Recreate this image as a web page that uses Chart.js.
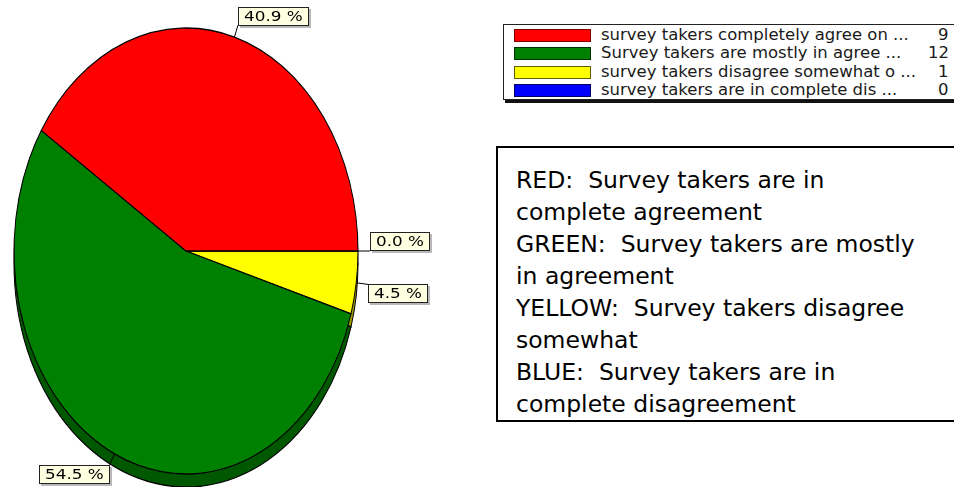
<!DOCTYPE html>
<html>
<head>
<meta charset="utf-8">
<script src="https://cdn.jsdelivr.net/npm/chart.js@4/dist/chart.umd.min.js"></script>
<style>
  html, body { margin: 0; padding: 0; background: #fff; }
  body { width: 954px; height: 487px; position: relative; overflow: hidden; font-family: "DejaVu Sans", sans-serif; }
  #pie { position: absolute; left: 0; top: 0; }
  #legend { position: absolute; left: 503px; top: 24px; width: 470px; height: 74px; border: 1px solid #222; box-shadow: 2px 3px 0 #111; background: #fff; }
  #legend .row { position: absolute; left: 0; width: 100%; height: 18px; }
  #legend .sw { position: absolute; left: 10px; top: 3px; width: 75px; height: 11px; border: 1px solid #000; }
  #legend .lbl { position: absolute; left: 97px; top: 0; line-height: 18px; font-size: 15px; color: #1a1a1a; white-space: nowrap; transform: scaleX(1.1); transform-origin: left center; }
  #legend .val { position: absolute; right: 25px; top: 0; line-height: 18px; font-size: 15px; color: #1a1a1a; white-space: nowrap; transform: scaleX(1.1); transform-origin: right center; }
  #note { position: absolute; left: 496px; top: 146px; width: 470px; height: 256px; padding-top: 16px; border: 2px solid #000; background: #fff; }
  #note div { font-size: 23.5px; line-height: 32px; padding-left: 18px; white-space: pre; color: #000; }
</style>
</head>
<body>
<canvas id="pie" width="480" height="487"></canvas>
<div id="legend"></div>
<div id="note"></div>
<script>
// Survey results, in legend order
const categories = [
  'survey takers completely agree on ...',
  'Survey takers are mostly in agree ...',
  'survey takers disagree somewhat o ...',
  'survey takers are in complete dis ...'
];
const counts = [9, 12, 1, 0];
const faceColors = ['#ff0000', '#008000', '#ffff00', '#0000ff'];
const sideColors = ['#a00000', '#005800', '#a0a000', '#0000a0'];
const swatchBorders = ['#800000', '#003000', '#606000', '#000060'];

// Colour key text
const noteLines = [
  'RED:  Survey takers are in',
  'complete agreement',
  'GREEN:  Survey takers are mostly',
  'in agreement',
  'YELLOW:  Survey takers disagree',
  'somewhat',
  'BLUE:  Survey takers are in',
  'complete disagreement'
];

const total = counts.reduce((a, b) => a + b, 0);
const pctText = v => (v / total * 100).toFixed(1) + ' %';

// Legend
const legend = document.getElementById('legend');
categories.forEach((name, i) => {
  const row = document.createElement('div');
  row.className = 'row';
  row.style.top = (0.5 + i * 18.6) + 'px';
  row.innerHTML = '<div class="sw"></div><div class="lbl"></div><div class="val"></div>';
  row.querySelector('.sw').style.background = faceColors[i];
  row.querySelector('.sw').style.borderColor = swatchBorders[i];
  row.querySelector('.lbl').textContent = name;
  row.querySelector('.val').textContent = counts[i];
  legend.appendChild(row);
});

// Colour key box
const note = document.getElementById('note');
noteLines.forEach(t => {
  const d = document.createElement('div');
  d.textContent = t;
  note.appendChild(d);
});

// Slices run counter-clockwise from 3 o'clock, so feed them to Chart.js reversed
const order = counts.map((_, i) => i).reverse();
const pieLabels = order.map(i => categories[i]);
const pieValues = order.map(i => counts[i]);
const pieFaces = order.map(i => faceColors[i]);
const pieSides = order.map(i => sideColors[i]);

const STRETCH = 223 / 172;   // vertical stretch of the pie
const DEPTH = 13;            // thickness of the pie's side wall
const TEXT_SX = 1.2;         // horizontal stretch of the label font

const tiltedPie = {
  id: 'tiltedPie',
  beforeDatasetsDraw(chart) {
    const ctx = chart.ctx;
    const meta = chart.getDatasetMeta(0);
    const { x: cx, y: cy } = meta.data[0].getProps(['x', 'y'], true);
    ctx.save();
    ctx.translate(cx, cy);
    ctx.scale(1, STRETCH);
    ctx.translate(-cx, -cy);
    // side wall: the slices again, shifted down and darker
    ctx.save();
    ctx.translate(0, DEPTH / STRETCH);
    meta.data.forEach((arc, i) => {
      const p = arc.getProps(['startAngle', 'endAngle', 'outerRadius'], true);
      if (p.endAngle - p.startAngle <= 0) return;
      ctx.beginPath();
      ctx.moveTo(cx, cy);
      ctx.arc(cx, cy, p.outerRadius, p.startAngle, p.endAngle);
      ctx.closePath();
      ctx.fillStyle = pieSides[i];
      ctx.fill();
      ctx.lineWidth = 1;
      ctx.strokeStyle = '#000';
      ctx.stroke();
    });
    ctx.restore();
  },
  afterDatasetsDraw(chart) {
    const ctx = chart.ctx;
    ctx.restore();
    const meta = chart.getDatasetMeta(0);
    ctx.save();
    ctx.font = '14px "DejaVu Sans"';
    ctx.textBaseline = 'middle';
    meta.data.forEach((arc, i) => {
      const p = arc.getProps(['x', 'y', 'startAngle', 'endAngle', 'outerRadius'], true);
      const mid = (p.startAngle + p.endAngle) / 2;
      const c = Math.cos(mid), s = Math.sin(mid);
      const ex = p.x + p.outerRadius * c;
      const ey = p.y + p.outerRadius * STRETCH * s;
      const lead = 12;
      const ax = ex + lead * c;
      const ay = ey + lead * s;
      const text = pctText(pieValues[i]);
      const w = ctx.measureText(text).width * TEXT_SX + 12;
      const h = 19;
      const bx = c >= 0 ? ax : ax - w;
      const by = s > 0.001 ? ay : ay - h;
      // leader line
      ctx.strokeStyle = '#000';
      ctx.lineWidth = 1;
      ctx.beginPath();
      ctx.moveTo(ex, ey);
      ctx.lineTo(ax, ay);
      ctx.stroke();
      // box with a small shadow
      ctx.fillStyle = '#b8b8b8';
      ctx.fillRect(Math.round(bx) + 2, Math.round(by) + 2, Math.round(w), h);
      ctx.fillStyle = '#ffffe1';
      ctx.fillRect(Math.round(bx), Math.round(by), Math.round(w), h);
      ctx.strokeStyle = '#222';
      ctx.strokeRect(Math.round(bx) + 0.5, Math.round(by) + 0.5, Math.round(w) - 1, h - 1);
      ctx.fillStyle = '#000';
      ctx.save();
      ctx.translate(Math.round(bx) + 6, Math.round(by) + h / 2 + 1);
      ctx.scale(TEXT_SX, 1);
      ctx.fillText(text, 0, 0);
      ctx.restore();
    });
    ctx.restore();
  }
};

new Chart(document.getElementById('pie'), {
  type: 'pie',
  data: {
    labels: pieLabels,
    datasets: [{
      data: pieValues,
      backgroundColor: pieFaces,
      borderColor: '#000',
      borderWidth: 1,
      clip: false
    }]
  },
  options: {
    responsive: false,
    animation: false,
    rotation: 90,
    radius: 172,
    layout: { padding: { left: 14, right: 122, top: 79, bottom: 64 } },
    plugins: { legend: { display: false }, tooltip: { enabled: false } }
  },
  plugins: [tiltedPie]
});
</script>
</body>
</html>
